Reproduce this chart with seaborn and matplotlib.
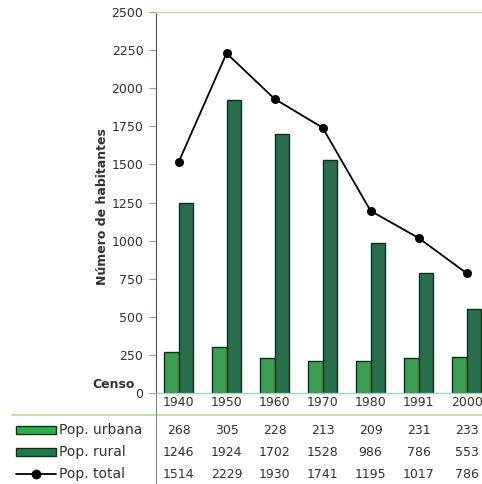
import numpy as np
import pandas as pd
import matplotlib.pyplot as plt
import seaborn as sns
from matplotlib.lines import Line2D
from matplotlib.patches import Rectangle
from matplotlib.transforms import blended_transform_factory

sns.set_style("white")
plt.rcParams['font.family'] = ['DejaVu Sans']

years = ["1940", "1950", "1960", "1970", "1980", "1991", "2000"]
urbana = [268, 305, 228, 213, 209, 231, 233]
rural = [1246, 1924, 1702, 1528, 986, 786, 553]
total = [1514, 2229, 1930, 1741, 1195, 1017, 786]

c_urb = "#2cae4a"
c_rur = "#1f7a4c"
txt = "#333333"

df = pd.DataFrame({
    "Censo": years * 2,
    "Pob": urbana + rural,
    "Tipo": ["Pop. urbana"] * 7 + ["Pop. rural"] * 7,
})

W, H = 482, 484
fig = plt.figure(figsize=(W / 100, H / 100), dpi=100)
ax = fig.add_axes([156 / W, 1 - 393 / H, 1 - 156 / W, (393 - 12) / H])

sns.barplot(data=df, x="Censo", y="Pob", hue="Tipo", order=years,
            palette=[c_urb, c_rur], width=0.6, edgecolor="#10301c",
            linewidth=1.0, legend=False, ax=ax)
sns.pointplot(x=years, y=total, color="black", markers="o", linewidth=1.3,
              markersize=5.5, ax=ax)

ax.set_xlim(-0.47, 6.32)
ax.set_ylim(0, 2500)
ax.set_yticks(np.arange(0, 2501, 250))
ax.set_yticklabels([str(v) for v in range(0, 2501, 250)], fontsize=9, color=txt)
ax.tick_params(axis="y", length=5, width=0.8, color="#b0a070", pad=4, left=True)
ax.set_xticks([])
ax.set_xlabel("")
ax.set_ylabel("Número de habitantes", fontsize=9, fontweight="bold", color=txt)
ax.yaxis.set_label_coords(-0.145, 0.49)
ax.spines["right"].set_visible(False)
ax.spines["top"].set_color("#c9d8a8")
ax.spines["top"].set_linewidth(1.0)
ax.spines["bottom"].set_color("#9ed8b8")
ax.spines["bottom"].set_linewidth(1.0)
ax.spines["left"].set_color("#555555")
ax.spines["left"].set_linewidth(0.8)

# table below the chart
tr = blended_transform_factory(ax.transData, fig.transFigure)
rows = [years, urbana, rural, total]
ys = [402, 430, 452, 474]
for row, yp in zip(rows, ys):
    for i, v in enumerate(row):
        ax.text(i, 1 - yp / H, str(v), transform=tr, ha="center", va="center",
                fontsize=9, color=txt, clip_on=False)

fig.text(135 / W, 1 - 385 / H, "Censo", ha="right", va="center",
         fontsize=9, fontweight="bold", color=txt)

fig.add_artist(Line2D([12 / W, 1], [1 - 415 / H] * 2, transform=fig.transFigure,
                      color="#b8d898", lw=1.2))
fig.add_artist(Line2D([156 / W] * 2, [1 - 393 / H, 0], transform=fig.transFigure,
                      color="#888888", lw=0.8))

# legend in table
for yp, col in [(430, c_urb), (452, c_rur)]:
    fig.add_artist(Rectangle((16 / W, 1 - (yp + 4) / H), 40 / W, 8 / H,
                             transform=fig.transFigure, facecolor=col,
                             edgecolor="#10301c", lw=1.0))
fig.add_artist(Line2D([16 / W, 56 / W], [1 - 474 / H] * 2, transform=fig.transFigure,
                      color="black", lw=1.3))
fig.add_artist(Line2D([36 / W], [1 - 474 / H], transform=fig.transFigure,
                      color="black", marker="o", markersize=6))
for yp, lab in zip(ys[1:], ["Pop. urbana", "Pop. rural", "Pop. total"]):
    fig.text(59 / W, 1 - yp / H, lab, ha="left", va="center", fontsize=10,
             color=txt)

plt.savefig("out.png", dpi=100)
